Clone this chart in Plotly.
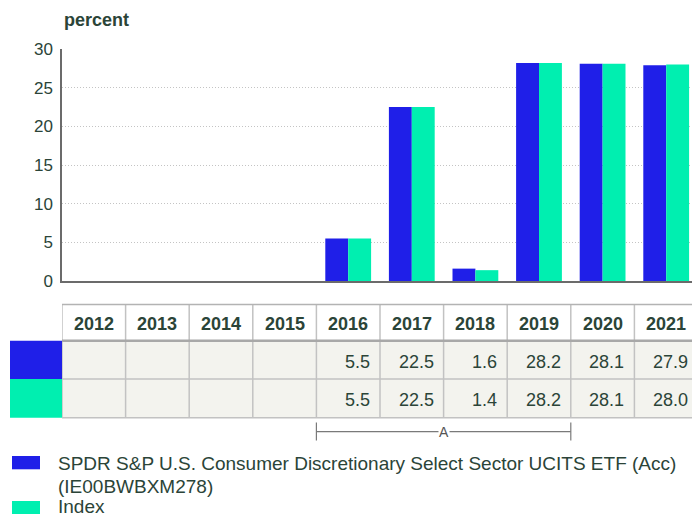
import plotly.graph_objects as go

years = ["2012", "2013", "2014", "2015", "2016", "2017", "2018", "2019", "2020", "2021"]
fund_values = [None, None, None, None, 5.5, 22.5, 1.6, 28.2, 28.1, 27.9]
index_values = [None, None, None, None, 5.5, 22.5, 1.4, 28.2, 28.1, 28.0]
fund_name = "SPDR S&P U.S. Consumer Discretionary Select Sector UCITS ETF (Acc)"
fund_isin = "(IE00BWBXM278)"
index_name = "Index"
y_title = "percent"
bracket_label = "A"
bracket_span = ["2016", "2019"]

BLUE = "#1f1fe8"
GREEN = "#00efb0"
TXT = "#2b4438"
FONT = "Liberation Sans, Arial, sans-serif"

W, H = 692, 517
ML, MT = 62, 49
PLOT_BOTTOM = 281
PLOT_W = W - ML
PLOT_H = PLOT_BOTTOM - MT


def py(p):
    return (PLOT_BOTTOM - p) / PLOT_H


def px(p):
    return (p - ML) / PLOT_W


fig = go.Figure()
fig.add_trace(go.Bar(x=years, y=fund_values, name=fund_name, marker=dict(color=BLUE, line=dict(width=0)),
                     showlegend=False, hoverinfo="skip"))
fig.add_trace(go.Bar(x=years, y=index_values, name=index_name, marker=dict(color=GREEN, line=dict(width=0)),
                     showlegend=False, hoverinfo="skip"))

n = len(years)
slot_px = 63.6
x_max = -0.5 + PLOT_W / slot_px

shapes = []
annotations = []

# table geometry (pixels)
t_top, t_head, t_r1, t_r2 = 304.5, 340.7, 379.0, 417.7

# body background
shapes.append(dict(type="rect", xref="x", yref="paper", x0=-0.5, x1=n - 0.5,
                   y0=py(t_r2), y1=py(t_head), fillcolor="#f3f3ee", line=dict(width=0), layer="below"))
# left swatches
shapes.append(dict(type="rect", xref="paper", yref="paper", x0=px(10), x1=0, y0=py(t_r1), y1=py(t_head),
                   fillcolor=BLUE, line=dict(width=0)))
shapes.append(dict(type="rect", xref="paper", yref="paper", x0=px(10), x1=0, y0=py(t_r2), y1=py(t_r1),
                   fillcolor=GREEN, line=dict(width=0)))
# vertical grid lines
for i in range(n + 1):
    shapes.append(dict(type="line", xref="x", yref="paper", x0=i - 0.5, x1=i - 0.5,
                       y0=py(t_r2), y1=py(t_top), line=dict(color="#c2c2c2", width=1.5)))
# horizontal lines
for yy, col, wd in [(t_top, "#b3b3b3", 1.5), (t_r1, "#c2c2c2", 1.5), (t_r2, "#c2c2c2", 1.5),
                    (t_head, "#a8a8a8", 2.5)]:
    shapes.append(dict(type="line", xref="x", yref="paper", x0=-0.5, x1=n - 0.5,
                       y0=py(yy), y1=py(yy), line=dict(color=col, width=wd)))

# header text
for i, yr in enumerate(years):
    annotations.append(dict(xref="x", yref="paper", x=i, y=py(323.5), text="<b>%s</b>" % yr,
                            showarrow=False, xanchor="center", yanchor="middle",
                            font=dict(family=FONT, size=18, color=TXT)))
for vals, yc in [(fund_values, 361.5), (index_values, 399.5)]:
    for i, v in enumerate(vals):
        if v is None:
            continue
        annotations.append(dict(xref="x", yref="paper", x=i, y=py(yc), text="%.1f" % v,
                                showarrow=False, xanchor="right", yanchor="middle", xshift=slot_px / 2 - 8,
                                font=dict(family=FONT, size=18, color=TXT)))

# bracket
b0 = years.index(bracket_span[0]) - 0.5
b1 = years.index(bracket_span[1]) + 0.5
by = 431.7
shapes.append(dict(type="line", xref="x", yref="paper", x0=b0, x1=b1, y0=py(by), y1=py(by),
                   line=dict(color="#7a7a7a", width=1.2)))
for bx in (b0, b1):
    shapes.append(dict(type="line", xref="x", yref="paper", x0=bx, x1=bx, y0=py(422.5), y1=py(440.5),
                       line=dict(color="#7a7a7a", width=1.2)))
annotations.append(dict(xref="x", yref="paper", x=(b0 + b1) / 2, y=py(by), text=bracket_label,
                        showarrow=False, xanchor="center", yanchor="middle", bgcolor="white", borderpad=0,
                        font=dict(family=FONT, size=14, color="#555555")))

# legend
shapes.append(dict(type="rect", xref="paper", yref="paper", x0=px(12), x1=px(40), y0=py(469.3), y1=py(456),
                   fillcolor=BLUE, line=dict(width=0)))
shapes.append(dict(type="rect", xref="paper", yref="paper", x0=px(12), x1=px(40), y0=py(514), y1=py(501),
                   fillcolor=GREEN, line=dict(width=0)))
for txt, yc in [(fund_name, 463.5), (fund_isin, 486), (index_name, 506.5)]:
    annotations.append(dict(xref="paper", yref="paper", x=px(57), y=py(yc), text=txt, showarrow=False,
                            xanchor="left", yanchor="middle", borderpad=0,
                            font=dict(family=FONT, size=19, color=TXT)))

# y title
annotations.append(dict(xref="paper", yref="paper", x=px(62), y=py(20), text="<b>%s</b>" % y_title,
                        showarrow=False, xanchor="left", yanchor="middle",
                        font=dict(family=FONT, size=18, color=TXT)))

fig.update_layout(
    width=W, height=H,
    margin=dict(l=ML, r=0, t=MT, b=H - PLOT_BOTTOM, pad=0),
    paper_bgcolor="white", plot_bgcolor="white",
    barmode="group", bargap=0.28, bargroupgap=0,
    showlegend=False,
    shapes=shapes, annotations=annotations,
    xaxis=dict(type="category", range=[-0.5, x_max], showticklabels=False, showgrid=False,
               showline=True, linecolor="#6b6b6b", linewidth=2, ticks="", zeroline=False, fixedrange=True),
    yaxis=dict(range=[0, 30], dtick=5, showgrid=True, gridcolor="#c4c4c4", griddash="1px,2px", gridwidth=1,
               showline=True, linecolor="#6b6b6b", linewidth=1.5, zeroline=False, ticks="",
               ticklabelstandoff=4, tickfont=dict(family=FONT, size=17, color=TXT), fixedrange=True),
)

fig.write_html("out.html", config={"displayModeBar": False},
               post_script="document.body.style.margin='0';document.body.style.overflow='hidden';")
